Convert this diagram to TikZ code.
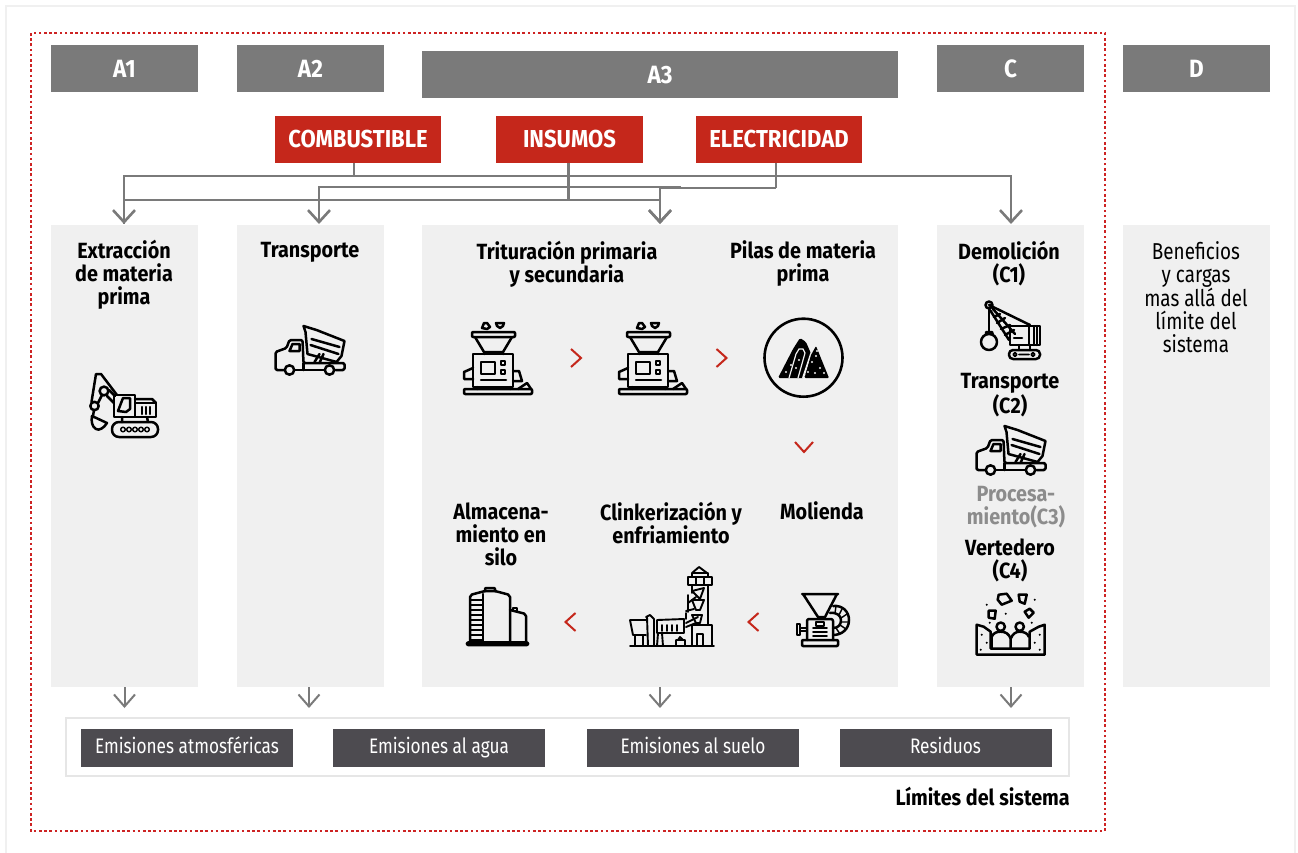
\documentclass[tikz,border=0pt]{standalone}
\usepackage{fontspec}
\setmainfont[FakeStretch=0.82, BoldFeatures={FakeStretch=0.90}]{Fira Sans}
\usetikzlibrary{arrows.meta, positioning, calc}
\definecolor{hdrgray}{RGB}{122, 122, 122}
\definecolor{panelgray}{RGB}{240, 240, 240}
\definecolor{inputred}{RGB}{197, 39, 27}
\definecolor{outdark}{RGB}{77, 75, 80}
\definecolor{linegray}{RGB}{122, 122, 122}
\definecolor{mutedgray}{RGB}{140, 140, 140}
\definecolor{boxline}{RGB}{230, 230, 230}
\definecolor{dotred}{RGB}{205, 35, 35}
\tikzset{
  hdr/.style={fill=hdrgray, text=white, inner sep=0pt, minimum width=147pt, minimum height=47pt, font=\fontsize{25}{25}\selectfont\bfseries},
  inputbox/.style={fill=inputred, text=white, inner sep=0pt, minimum width=147pt, minimum height=47pt, font=\fontsize{24.5}{25}\selectfont\bfseries},
  panel/.style={fill=panelgray, inner sep=0pt, minimum width=147pt, minimum height=462pt},
  steplabel/.style={align=center, inner sep=0pt, font=\fontsize{22}{23}\selectfont\bfseries},
  outbox/.style={fill=outdark, text=white, inner sep=0pt, text height=15pt, text depth=5pt, minimum width=212pt, minimum height=38pt, font=\fontsize{21}{21}\selectfont},
  feed/.style={draw=linegray, line width=2.6pt},
  feedarrow/.style={feed, -{Straight Barb[length=12pt, width=22pt, line width=2.6pt]}},
  outarrow/.style={draw=linegray, line width=2pt, -{Straight Barb[length=12pt, width=21pt, line width=2pt]}},
  icon/.style={draw=black, line width=2.5pt, line join=round, line cap=round},
  nextmark/.pic={\draw[inputred, line width=2pt] (-5,-9) -- (5,0) -- (-5,9);},
  dumptruck/.pic={
    \draw[icon] (28,0) -- (41,4) -- (69,15) -- (66,30) -- (61,36) -- (32,28) -- (30,6) -- cycle;
    \draw[icon] (36,13) -- (64,21) (35,19) -- (63,28) (39,36) -- (44,28) (44,37) -- (48,28);
    \draw[icon, rounded corners=1.5] (8,44) -- (0,44) -- (0,26) -- (11,22) -- (14,14) -- (27,14) -- (28,37) -- (69,37) -- (69,44) -- (60,44);
    \draw[icon] (14,25) -- (17,18) -- (24,18) -- (24,25) -- cycle;
    \draw[icon] (20,44) -- (48,44) (28,37) -- (28,44);
    \draw[icon] (14,44) circle (4.7) (54,44) circle (4.7);
  },
  crusher/.pic={
    \draw[icon] (19,7) -- (21,2) -- (24,2) -- (27,6) -- (24,8) -- cycle;
    \draw[icon] (33,2) -- (41,2) -- (40,5) -- (37,7) -- (34,5) -- cycle;
    \draw[icon, rounded corners=1] (9,11) rectangle (52,16);
    \draw[icon] (12,16) -- (21,31) -- (40,31) -- (49,16) (21,31) -- (21,33) (40,31) -- (40,33);
    \draw[icon] (10,33) rectangle (50,66) (18,41) rectangle (32,53);
    \draw[icon] (38,40) rectangle (42,44) (38,49) rectangle (42,53) (18,59) -- (43,59);
    \draw[icon] (10,47) -- (1,51) -- (1,58) -- (10,58) (50,50) -- (56,50) -- (59,60) -- (50,60);
    \draw[icon, rounded corners=1] (1,68) rectangle (69,73);
    \draw[icon] (14,66) -- (14,68) (47,66) -- (47,68) (55,68) -- (64,62) -- (68,68);
  }
}
\begin{document}
\begin{tikzpicture}[x=1pt, y=-1pt]
  \useasboundingbox (0,0) rectangle (1298,853);

  % Outer frames
  \draw[panelgray, line width=2.5pt] (6,853) -- (6,6) -- (1295,6) -- (1295,853);
  \draw[dotred, line width=2.6pt, dash pattern=on 2.6pt off 2.6pt] (31,33) rectangle (1105,831);

  % Module headers
  \node[hdr] (a1) at (124.5,68.5) {A1};
  \node[hdr] (a2) at (310.5,68.5) {A2};
  \node[hdr, minimum width=476pt] (a3) at (660,75) {A3};
  \node[hdr] (c) at (1010.5,68.5) {C};
  \node[hdr] (d) at (1196.5,68.5) {D};

  % Inputs
  \node[inputbox, minimum width=166pt] (combustible) at (358,139.5) {COMBUSTIBLE};
  \node[inputbox] (insumos) at (569.5,139.5) {INSUMOS};
  \node[inputbox, minimum width=166pt] (electricidad) at (779,139.5) {ELECTRICIDAD};

  % Panels
  \node[panel] (a1panel) at (124.5,456) {};
  \node[panel] (a2panel) at (310.5,456) {};
  \node[panel, minimum width=476pt] (a3panel) at (660,456) {};
  \node[panel] (cpanel) at (1010.5,456) {};
  \node[panel] (dpanel) at (1196.5,456) {};

  % Feed lines
  \coordinate (a1in) at (124,224);
  \coordinate (a2in) at (319,224);
  \coordinate (a3in) at (660,224);
  \coordinate (cin) at (1011,224);
  \coordinate (combjoin) at (354,176);
  \coordinate (insjoin) at (568.5,200);
  \coordinate (elecjoin) at (776,188);
  \coordinate (tailend) at (681,187);
  \draw[feed] (combustible.south -| combjoin) -- (combjoin);
  \draw[feedarrow] (combjoin) -| (a1in);
  \draw[feedarrow] (combjoin) -| (cin);
  \draw[feed] (insumos.south -| insjoin) -- (insjoin);
  \draw[feed] (insjoin) -| (a1in);
  \draw[feedarrow] (insjoin) -| (a3in);
  \draw[feed] (electricidad.south -| elecjoin) -- (elecjoin);
  \draw[feedarrow] (elecjoin) -| (a3in);
  \draw[feedarrow] (tailend) -| (a2in);

  % Panel texts
  \node[steplabel] (extraccion) at (124,275) {Extracción\\de materia\\prima};
  \node[steplabel] (transa) at (310,252) {Transporte};
  \node[steplabel] (tritura) at (567,264) {Trituración primaria\\y secundaria};
  \node[steplabel] (pilas) at (803,264) {Pilas de materia\\prima};
  \node[steplabel] (almacena) at (501,534.5) {Almacena-\\miento en\\silo};
  \node[steplabel] (clinker) at (671,522.5) {Clinkerización y\\enfriamiento};
  \node[steplabel] (molienda) at (822,510.5) {Molienda};
  \node[steplabel] (demolicion) at (1009,264) {Demolición\\(C1)};
  \node[steplabel] (transc) at (1010,395) {Transporte\\(C2)};
  \node[steplabel, text=mutedgray] (procesa) at (1016,507.5) {Procesa-\\miento(C3)};
  \node[steplabel] (vertedero) at (1010,560) {Vertedero\\(C4)};
  \node[steplabel, font=\fontsize{23}{23}\selectfont] (beneficios) at (1196,297.5) {Beneficios\\y cargas\\mas allá del\\límite del\\sistema};

  % Excavator
  \begin{scope}[shift={(90,374)}]
    \draw[icon] (6,0) -- (11,0) -- (27,21) (6,0) -- (1.5,28);
    \draw[icon] (14,17) circle (4.4) (4.5,32) circle (4.2);
    \draw[icon] (8,29) -- (12,21) (17,22) -- (24,29) (19,16) -- (25,22);
    \draw[icon] (2,42) -- (17,49) .. controls (14,54) and (9,57) .. (6,55) .. controls (2,53) and (1,47) .. (2,42) -- cycle;
    \draw[icon] (4,36) -- (3,42);
    \draw[icon] (24,21) rectangle (45,43) (45,29) rectangle (66,43);
    \draw[icon] (28,37) -- (33,24) -- (40,24) -- (40,35) -- (36,38) -- cycle;
    \draw[icon] (45,25) -- (62,25) -- (66,29);
    \draw[icon] (52,33) -- (52,40) (56,33) -- (56,40) (60,33) -- (60,40);
    \draw[icon] (32,43) -- (32,48) (57,43) -- (58,48);
    \draw[icon, rounded corners=7] (22,48) rectangle (68,63);
    \foreach \rollx in {33,39,45,51,57} {\draw[icon, line width=1.5pt] (\rollx,55.5) circle (2.3);}
  \end{scope}

  % Trucks and crushers
  \pic at (275.5,326) {dumptruck};
  \pic at (976.5,426) {dumptruck};
  \pic at (463,321) {crusher};
  \pic at (618,321) {crusher};

  % Pile
  \draw[icon, line width=2.6pt] (803.5,357.7) circle (39);
  \fill[black, rounded corners=1.5] (778,378) -- (793,349) -- (800,338) -- (806,342) -- (812,356) -- (804,378) -- cycle;
  \draw[panelgray, line width=1.2pt] (789,378) -- (796,354) -- (799,349) -- (803,349) -- (805,353) -- (798,378);
  \draw[panelgray, line width=2pt] (803,378) -- (811,354) -- (814,349);
  \fill[black, rounded corners=1] (804.5,378) -- (811,355) -- (816,346) -- (829,378) -- cycle;
  \foreach \dotx/\doty in {786/372,791/365,799/360,796/368,808/372,812/362,816/356,820/368,815/373,824/373,817/351}
    {\fill[panelgray] (\dotx,\doty) circle (1.1);}

  % Mill
  \begin{scope}[shift={(795,593)}]
    \draw[icon] (7,1) -- (43,1) (8,1) -- (23,24) -- (30,24) -- (42,1);
    \draw[icon, rounded corners=2] (12,47) -- (12,26) -- (38,26) -- (38,47);
    \draw[icon, line width=1.8pt] (21,29) rectangle (29,33);
    \draw[icon, line width=1.8pt] (18,35) -- (32,35) (18,39) -- (32,39) (18,43) -- (32,43);
    \draw[icon, line width=1.8pt] (2,31) rectangle (5,42) (5,35) -- (12,35) (5,38) -- (12,38);
    \draw[icon, rounded corners=1] (7,47) rectangle (43,53);
    \draw[icon] (38,13) .. controls (48,12) and (54,19) .. (54,27) .. controls (54,36) and (47,42) .. (38,42);
    \draw[icon] (35,20) .. controls (42,19) and (46,23) .. (46,27) .. controls (46,32) and (43,35) .. (38,35);
    \draw[icon, line width=1.4pt] (41,13) -- (40,20) (47,16) -- (44,22) (52,21) -- (46,25) (54,29) -- (46,29) (51,36) -- (45,32) (45,41) -- (41,35);
  \end{scope}

  % Kiln
  \begin{scope}[shift={(630,567)}, icon/.append style={line width=1.9pt}]
    \draw[icon] (0,79) -- (84,79);
    \draw[icon] (62,6) -- (69,0) -- (77,6) -- cycle (62,6) -- (62,10) (78,6) -- (78,10);
    \draw[icon] (58,10) rectangle (82,18) (66,10) rectangle (74,18);
    \draw[icon] (62,18) -- (62,26) (78,18) -- (78,58);
    \draw[icon] (62,58) rectangle (82,79) (67,67) rectangle (73,79);
    \draw[icon] (62,24) -- (74,21) -- (70,32) -- (66,28) -- cycle;
    \draw[icon] (58,28) -- (58,45) (62,33) -- (74,33) -- (70,43) -- (66,43) -- cycle;
    \draw[icon] (58,36) -- (66,30) (56,46) -- (56,52) (62,48) -- (72,48) -- (70,56) -- (66,56) -- cycle;
    \draw[icon] (56,44) -- (64,42);
    \draw[icon] (56,56) -- (68,50) (56,60) -- (66,56);
    \draw[icon] (27,53) -- (54,52) -- (54,66) -- (27,66) -- cycle;
    \draw[icon] (32,58) -- (32,64) (37,58) -- (37,64) (42,58) -- (42,64) (47,58) -- (47,64);
    \draw[icon] (16,50) -- (20,48) -- (24,52) -- (24,79) (17,50) -- (18,79);
    \draw[icon] (0,53) -- (16,53) (0,53) -- (3,68) -- (16,68) (5,68) -- (5,79) (13,68) -- (13,79);
    \draw[icon] (28,66) -- (27,79) (32,66) -- (33,79);
    \draw[icon] (46,79) -- (46,73) -- (55,73) -- (55,79) (48,73) -- (50,70) -- (53,73);
  \end{scope}

  % Silo
  \begin{scope}[shift={(467,587)}]
    \draw[icon, rounded corners=2] (3,55) -- (3,8) -- (18,4) -- (28,4) -- (43,8) -- (43,55);
    \draw[icon, rounded corners=1] (18,4) -- (18,1) -- (28,1) -- (28,4);
    \draw[icon] (16,7) -- (16,55);
    \foreach \rungy in {13,18,23,28,33,38,43,48,53}
      {\draw[icon, line width=1.8pt] (4,\rungy) -- (15,\rungy);}
    \draw[icon, rounded corners=2] (43,23) -- (59,27) -- (59,55);
    \draw[icon] (46,23) -- (46,21) -- (50,21) -- (50,24);
    \draw[icon, line width=2.6pt, rounded corners=1] (0,55.5) rectangle (61,58);
  \end{scope}

  % Crane
  \begin{scope}[shift={(981,301)}]
    \draw[icon] (8,4) circle (3.5) (8,4) -- (49,24);
    \draw[icon] (8,7) -- (8,30);
    \draw[icon] (12,8) -- (34,33) (9,9) -- (28,39);
    \draw[icon] (13,16) -- (19,13) (16,22) -- (24,17) (20,28) -- (29,24) (24,34) -- (33,29);
    \draw[icon] (5,33) -- (5,31) -- (11,31) -- (12,34);
    \draw[icon] (8,41) circle (8);
    \draw[icon] (29,25) rectangle (59,44) (48,25) -- (48,44) (53,25) -- (53,44) (56,25) -- (56,44);
    \draw[icon] (33,37) -- (41,37);
    \draw[icon] (38,44) -- (38,49) (49,44) -- (49,49);
    \draw[icon, rounded corners=4] (28,49) rectangle (59,58);
    \draw[icon, line width=1.8pt] (34,53.5) circle (1.8) (52,53.5) circle (1.8) (38,53.5) -- (48,53.5);
  \end{scope}

  % Landfill
  \begin{scope}[shift={(976.7,592.7)}]
    \draw[icon] (0,32) -- (0,62) -- (68,62) -- (68,32) -- (62,34) -- (53,39) -- (53,56) -- (14,56) -- (14,39) -- (7,34) -- cycle;
    \draw[icon] (15,56) -- (15,44) .. controls (17,40) and (20,39) .. (24,39) .. controls (29,39) and (32,41) .. (34,46) -- (34,56);
    \draw[icon] (34,46) .. controls (36,41) and (39,39) .. (43,39) .. controls (48,39) and (51,41) .. (52,44);
    \draw[icon] (24,34) circle (4.2) (43,34) circle (4.2);
    \draw[icon] (22,2) -- (30,1) -- (35,8) -- (25,12) -- (21,7) -- cycle;
    \draw[icon] (42,2) -- (50,2) -- (48,11) -- (43,9) -- cycle;
    \draw[icon] (12,18) -- (19,18) -- (18,26) -- (12,25) -- cycle;
    \draw[icon] (48,19) -- (53,16) -- (57,20) -- (52,25) -- cycle;
    \foreach \dotx/\doty in {10/12,29/21,58/7,13/30,55/30,5/42,10/50,4/57,63/42,58/50,63/57}
      {\fill[black] (\dotx,\doty) circle (1.1);}
  \end{scope}

  % Step marks
  \pic at (576,358) {nextmark};
  \pic at (721.5,358) {nextmark};
  \pic[rotate=-90] at (804,447) {nextmark};
  \pic[rotate=180] at (570.5,622) {nextmark};
  \pic[rotate=180] at (753.5,622) {nextmark};

  % Outputs
  \node[draw=boxline, line width=2pt, minimum width=1003pt, minimum height=58pt, inner sep=0pt] (outframe) at (567.5,747) {};
  \node[outbox] (atmos) at (187,748) {Emisiones atmosféricas};
  \node[outbox] (agua) at (439,748) {Emisiones al agua};
  \node[outbox] (suelo) at (693,748) {Emisiones al suelo};
  \node[outbox] (residuos) at (945.5,748) {Residuos};
  \node[steplabel, anchor=east] (limites) at (1070,796.5) {Límites del sistema};

  \coordinate (a1out) at (124.5,708);
  \coordinate (a2out) at (309,708);
  \coordinate (a3out) at (660,708);
  \coordinate (cout) at (1011,708);
  \draw[outarrow] (a1panel.south -| a1out) -- (a1out);
  \draw[outarrow] (a2panel.south -| a2out) -- (a2out);
  \draw[outarrow] (a3panel.south -| a3out) -- (a3out);
  \draw[outarrow] (cpanel.south -| cout) -- (cout);
\end{tikzpicture}
\end{document}
